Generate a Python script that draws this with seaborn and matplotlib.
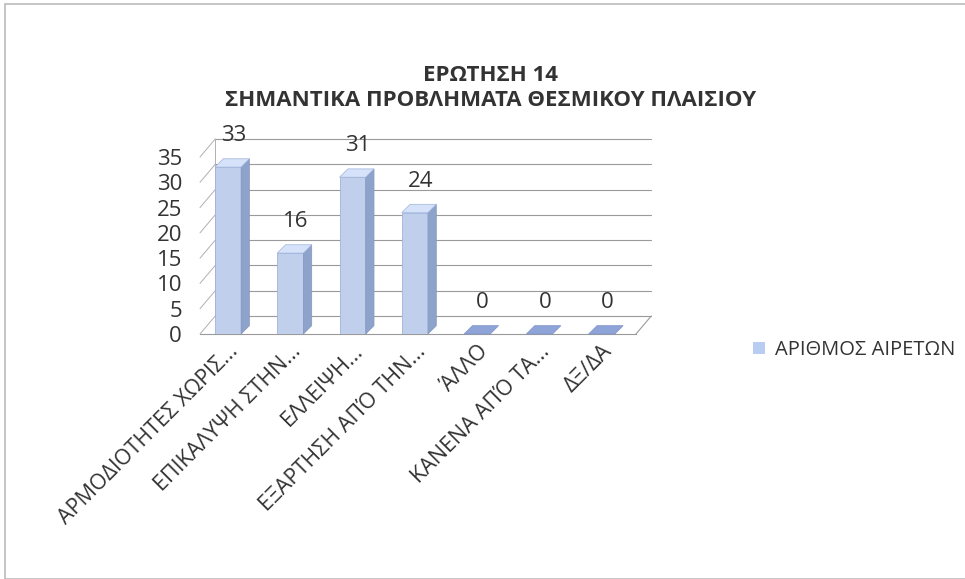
import matplotlib
matplotlib.use("Agg")
import matplotlib.pyplot as plt
import seaborn as sns
import pandas as pd
from matplotlib.patches import Polygon, Rectangle
from matplotlib.transforms import ScaledTranslation

categories = ["ΑΡΜΟΔΙΟΤΗΤΕΣ ΧΩΡΙΣ...", "ΕΠΙΚΑΛΥΨΗ ΣΤΗΝ...", "ΕΛΛΕΙΨΗ...",
              "ΕΞΑΡΤΗΣΗ ΑΠΌ ΤΗΝ...", "ΆΛΛΟ", "ΚΑΝΕΝΑ ΑΠΌ ΤΑ...", "ΔΞ/ΔΑ"]
values = [33, 16, 31, 24, 0, 0, 0]
series_name = "ΑΡΙΘΜΟΣ ΑΙΡΕΤΩΝ"
title = "ΕΡΩΤΗΣΗ 14\nΣΗΜΑΝΤΙΚΑ ΠΡΟΒΛΗΜΑΤΑ ΘΕΣΜΙΚΟΥ ΠΛΑΙΣΙΟΥ"
yticks = [0, 5, 10, 15, 20, 25, 30, 35]

sns.set_theme(style="white")
plt.rcParams['font.family'] = ['Open Sans', 'DejaVu Sans']

df = pd.DataFrame({"cat": categories, "val": values, "series": series_name})

fig = plt.figure(figsize=(9.65, 5.79), dpi=100)
ax = fig.add_axes([200/965, 1-334/579, (636-200)/965, (334-157)/579])

front = "#b9cdf2"
side = "#8ea3cc"
topc = "#d5e2fa"
sns.barplot(data=df, x="cat", y="val", hue="series", palette=[front], ax=ax,
            width=0.42, edgecolor="#9fb3da", linewidth=0.6, legend=False, zorder=3)

ax.set_ylim(0, 35)
ax.set_xlim(-0.45, 6.55)
ax.set_yticks(yticks)
ax.set_yticklabels([str(t) for t in yticks], fontsize=16, color="#333333")
ax.tick_params(axis='y', length=0, pad=13)
ax.set_xlabel("")
ax.set_ylabel("")
ax.set_xticks(range(len(categories)))
ax.set_xticklabels(categories, rotation=45, ha="right", rotation_mode="anchor",
                   fontsize=15.5, color="#333333")
ax.tick_params(axis='x', length=0, pad=5)
for s in ax.spines.values():
    s.set_visible(False)

inv = ax.transData.inverted()
# pseudo-3D floor/walls
dx, dy = 11/72, 13/72  # depth offset in inches
off = ScaledTranslation(dx, dy, fig.dpi_scale_trans)
for t in yticks:
    ax.plot([-0.45, 6.55], [t, t], color="#9a9a9a", lw=0.8, transform=ax.transData + off,
            zorder=1, clip_on=False)
    a = (-0.45, t)
    b = inv.transform((ax.transData + off).transform((-0.45, t)))
    ax.plot([a[0], b[0]], [a[1], b[1]], color="#b0b0b0", lw=0.7, zorder=1, clip_on=False)
c1 = inv.transform((ax.transData + off).transform((6.55, 0)))
ax.plot([-0.45, 6.55], [0, 0], color="#9a9a9a", lw=0.8, zorder=1, clip_on=False)
ax.plot([6.55, c1[0]], [0, c1[1]], color="#9a9a9a", lw=0.8, zorder=1, clip_on=False)
b35 = inv.transform((ax.transData + off).transform((-0.45, 35)))
b0 = inv.transform((ax.transData + off).transform((-0.45, 0)))
ax.plot([b0[0], b35[0]], [b0[1], b35[1]], color="#b0b0b0", lw=0.7, zorder=1, clip_on=False)

# bar depth faces
bdx, bdy = 6/72, 6/72
d = fig.dpi_scale_trans.transform((bdx, bdy)) - fig.dpi_scale_trans.transform((0, 0))
for patch, v in zip(ax.patches, values):
    x0 = patch.get_x(); w = patch.get_width(); h = patch.get_height()
    pts = lambda x, y: ax.transData.transform((x, y))
    BL, BR, TR, TL = pts(x0, 0), pts(x0 + w, 0), pts(x0 + w, h), pts(x0, h)
    to = lambda p: inv.transform(p)
    if h > 0:
        side_poly = [to(BR), to(BR + d), to(TR + d), to(TR)]
        ax.add_patch(Polygon(side_poly, closed=True, fc=side, ec="#8597bd", lw=0.5, zorder=3))
        top_poly = [to(TL), to(TR), to(TR + d), to(TL + d)]
        ax.add_patch(Polygon(top_poly, closed=True, fc=topc, ec="#9fb3da", lw=0.5, zorder=3))
    else:
        top_poly = [to(TL), to(TR), to(TR + d), to(TL + d)]
        ax.add_patch(Polygon(top_poly, closed=True, fc="#8ea3d8", ec="#7d92c8", lw=0.5,
                             zorder=3, clip_on=False))
    ax.annotate(str(v), (x0 + w / 2, h), xytext=(4, 15), textcoords="offset points",
                ha="center", va="bottom", fontsize=16, color="#333333", zorder=5)

fig.text(0.508, 0.887, title, ha="center", va="top", fontsize=16, fontweight="bold",
         color="#333333", linespacing=1.25)

handle = Rectangle((0, 0), 1, 1, fc=front, ec="none")
fig.legend([handle], [series_name], loc="center left", bbox_to_anchor=(735/965, 1-350/579),
           frameon=False, fontsize=14.5, handlelength=0.6, handleheight=0.6,
           handletextpad=0.5, labelcolor="#333333")

fig.patches.append(Rectangle((5/965, 0), 1, 1-4/579, transform=fig.transFigure, fill=False,
                             ec="#bbbbbb", lw=1.2))
fig.savefig("out.png", dpi=100)
